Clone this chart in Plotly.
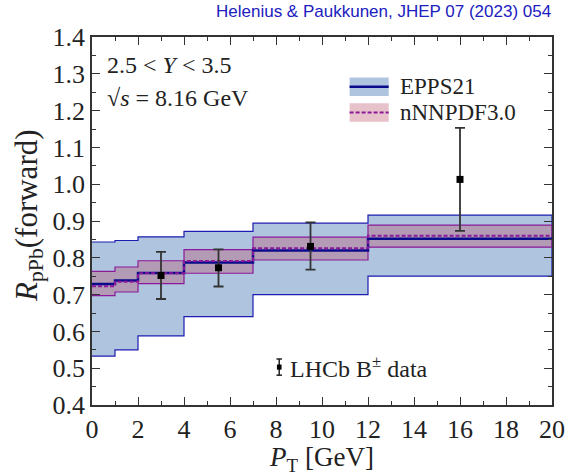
import plotly.graph_objects as go

# ---------------- data ----------------
bin_edges = [0, 1, 2, 4, 7, 12, 20]

epps_central = [0.729, 0.738, 0.759, 0.787, 0.820, 0.852]
epps_low     = [0.533, 0.550, 0.588, 0.640, 0.700, 0.750]
epps_high    = [0.843, 0.847, 0.857, 0.872, 0.894, 0.916]

nnpdf_central = [0.723, 0.735, 0.758, 0.791, 0.826, 0.860]
nnpdf_low     = [0.697, 0.707, 0.730, 0.758, 0.794, 0.829]
nnpdf_high    = [0.763, 0.775, 0.792, 0.822, 0.856, 0.889]

lhcb_pt   = [3.0, 5.5, 9.5, 16.0]
lhcb_r    = [0.752, 0.773, 0.831, 1.013]
lhcb_up   = [0.816, 0.823, 0.896, 1.153]
lhcb_down = [0.688, 0.722, 0.768, 0.873]

x_ticks = [0, 2, 4, 6, 8, 10, 12, 14, 16, 18, 20]
y_ticks = [0.4, 0.5, 0.6, 0.7, 0.8, 0.9, 1.0, 1.1, 1.2, 1.3, 1.4]


def step(edges, vals):
    xs, ys = [], []
    for i, v in enumerate(vals):
        xs += [edges[i], edges[i + 1]]
        ys += [v, v]
    return xs, ys


SERIF = "Liberation Serif"
BLUE_FILL = "#afc4df"
BLUE_EDGE = "#1c1cb0"
NAVY = "#0a0a8c"
PINK_FILL = "rgba(185,95,125,0.42)"
PURPLE = "#8a1a9a"

fig = go.Figure()

# EPPS21 band
xs, lo = step(bin_edges, epps_low)
_, hi = step(bin_edges, epps_high)
fig.add_trace(go.Scatter(x=xs + xs[::-1], y=lo + hi[::-1], fill="toself",
                         fillcolor=BLUE_FILL, mode="lines",
                         line=dict(color=BLUE_EDGE, width=1.2),
                         showlegend=False, hoverinfo="skip"))
# nNNPDF band
xs, lo = step(bin_edges, nnpdf_low)
_, hi = step(bin_edges, nnpdf_high)
fig.add_trace(go.Scatter(x=xs + xs[::-1], y=lo + hi[::-1], fill="toself",
                         fillcolor=PINK_FILL, mode="lines",
                         line=dict(color=PURPLE, width=1.2),
                         showlegend=False, hoverinfo="skip"))
# central lines
xs, yc = step(bin_edges, epps_central)
fig.add_trace(go.Scatter(x=xs, y=yc, mode="lines",
                         line=dict(color=NAVY, width=2.5),
                         showlegend=False, hoverinfo="skip"))
xs, yc = step(bin_edges, nnpdf_central)
fig.add_trace(go.Scatter(x=xs, y=yc, mode="lines",
                         line=dict(color=PURPLE, width=2, dash="4px,2px"),
                         showlegend=False, hoverinfo="skip"))

# LHCb data
fig.add_trace(go.Scatter(
    x=lhcb_pt, y=lhcb_r, mode="markers",
    marker=dict(symbol="square", size=7, color="black"),
    error_y=dict(type="data", symmetric=False,
                 array=[u - v for u, v in zip(lhcb_up, lhcb_r)],
                 arrayminus=[v - d for v, d in zip(lhcb_r, lhcb_down)],
                 color="#333333", thickness=1.8, width=5),
    showlegend=False))

# ---------------- legend (drawn by hand) ----------------
shapes = []
ann = []
# EPPS21 swatch
shapes.append(dict(type="rect", xref="paper", yref="paper", x0=0.56, x1=0.645,
                   y0=0.84, y1=0.89, fillcolor=BLUE_FILL, line=dict(width=0)))
shapes.append(dict(type="line", xref="paper", yref="paper", x0=0.56, x1=0.645,
                   y0=0.865, y1=0.865, line=dict(color=NAVY, width=2.5)))
# nNNPDF swatch
shapes.append(dict(type="rect", xref="paper", yref="paper", x0=0.56, x1=0.645,
                   y0=0.77, y1=0.82, fillcolor="#e8c2ca", line=dict(width=0)))
shapes.append(dict(type="line", xref="paper", yref="paper", x0=0.56, x1=0.645,
                   y0=0.795, y1=0.795, line=dict(color=PURPLE, width=2, dash="4px,2px")))
ann.append(dict(xref="paper", yref="paper", x=0.665, y=0.865, text="EPPS21",
                showarrow=False, xanchor="left", yanchor="middle",
                font=dict(family=SERIF, size=23, color="#222")))
ann.append(dict(xref="paper", yref="paper", x=0.665, y=0.795, text="nNNPDF3.0",
                showarrow=False, xanchor="left", yanchor="middle",
                font=dict(family=SERIF, size=23, color="#222")))
# LHCb legend key
lx, ly = 0.407, 0.103
shapes.append(dict(type="line", xref="paper", yref="paper", x0=lx, x1=lx,
                   y0=ly - 0.022, y1=ly + 0.022, line=dict(color="#222", width=1.5)))
shapes.append(dict(type="line", xref="paper", yref="paper", x0=lx - 0.006, x1=lx + 0.006,
                   y0=ly - 0.022, y1=ly - 0.022, line=dict(color="#222", width=1.5)))
shapes.append(dict(type="line", xref="paper", yref="paper", x0=lx - 0.006, x1=lx + 0.006,
                   y0=ly + 0.022, y1=ly + 0.022, line=dict(color="#222", width=1.5)))
shapes.append(dict(type="rect", xref="paper", yref="paper", x0=lx - 0.005, x1=lx + 0.005,
                   y0=ly - 0.007, y1=ly + 0.007, fillcolor="black", line=dict(width=0)))
ann.append(dict(xref="paper", yref="paper", x=0.427, y=ly, text="LHCb B<sup>±</sup> data",
                showarrow=False, xanchor="left", yanchor="middle",
                font=dict(family=SERIF, size=24, color="#222")))

# kinematic labels
ann.append(dict(xref="paper", yref="paper", x=0.028, y=0.925,
                text="2.5 &lt; <i>Y</i> &lt; 3.5", showarrow=False,
                xanchor="left", yanchor="middle",
                font=dict(family=SERIF, size=24, color="#222")))
ann.append(dict(xref="paper", yref="paper", x=0.028, y=0.835,
                text="√<i>s</i> = 8.16 GeV", showarrow=False,
                xanchor="left", yanchor="middle",
                font=dict(family=SERIF, size=24, color="#222")))
# title
ann.append(dict(xref="paper", yref="paper", x=1.003, y=1.068,
                text="Helenius &amp; Paukkunen, JHEP 07 (2023) 054", showarrow=False,
                xanchor="right", yanchor="middle",
                font=dict(family="Liberation Sans", size=17, color="#2020c0")))
# y-axis title
ann.append(dict(xref="paper", yref="paper", x=-0.136, y=0.515,
                text="<i>R</i><sub>pPb</sub>(forward)", showarrow=False, textangle=-90,
                xanchor="center", yanchor="middle",
                font=dict(family=SERIF, size=31, color="#222")))

axis_common = dict(showline=True, linecolor="#333", linewidth=1.5, mirror="allticks",
                   ticks="inside", ticklen=8, tickwidth=1.3, tickcolor="#333",
                   showgrid=False, zeroline=False, automargin=False,
                   tickfont=dict(family=SERIF, size=26, color="#222"))

fig.update_layout(
    width=565, height=476,
    margin=dict(l=92, r=13, t=37, b=71),
    plot_bgcolor="white", paper_bgcolor="white",
    shapes=shapes, annotations=ann,
    xaxis=dict(range=[0, 20], tickvals=x_ticks,
               minor=dict(dtick=1, ticks="inside", ticklen=4, tickcolor="#333"),
               title=dict(text="<i>P</i><sub>T</sub> [GeV]", standoff=4,
                          font=dict(family=SERIF, size=27, color="#222")),
               **axis_common),
    yaxis=dict(range=[0.4, 1.4], tickvals=y_ticks, tickformat=".1f",
               minor=dict(dtick=0.05, ticks="inside", ticklen=4, tickcolor="#333"),
               **axis_common),
)

fig.write_html("out.html")
